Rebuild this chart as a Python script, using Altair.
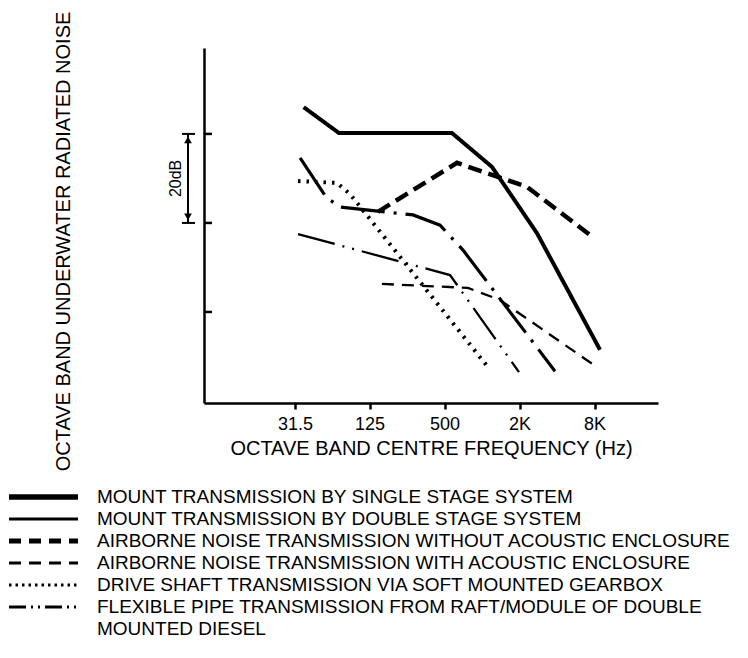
import altair as alt
import pandas as pd

# ---- values (octave band centre frequency in Hz, relative level in dB) ----
single_f = [37, 71, 573, 1200, 2760, 8850]
single_db = [66.0, 60.2, 60.2, 52.6, 37.7, 11.5]

double_f = [34.6, 56, 72, 279, 460, 703, 3850]
double_db = [54.6, 45.8, 43.6, 41.8, 39.5, 33.9, 6.7]

without_f = [146, 629, 2290, 7770]
without_db = [42.5, 53.5, 48.1, 36.8]

with_f = [157, 771, 1390, 8370]
with_db = [26.3, 25.4, 22.7, 7.6]

drive_f = [33.3, 68.4, 87, 1116]
drive_db = [49.4, 49.0, 46.5, 7.6]

flex_f = [33.3, 553, 1978]
flex_db = [37.5, 28.3, 6.5]

labels = [
    "MOUNT TRANSMISSION BY SINGLE STAGE SYSTEM",
    "MOUNT TRANSMISSION BY DOUBLE STAGE SYSTEM",
    "AIRBORNE NOISE TRANSMISSION WITHOUT ACOUSTIC ENCLOSURE",
    "AIRBORNE NOISE TRANSMISSION WITH ACOUSTIC ENCLOSURE",
    "DRIVE SHAFT TRANSMISSION VIA SOFT MOUNTED GEARBOX",
    "FLEXIBLE PIPE TRANSMISSION FROM RAFT/MODULE OF DOUBLE\nMOUNTED DIESEL",
]

xtick_values = [31.5, 125, 500, 2000, 8000]
xtick_labels = ["31.5", "125", "500", "2K", "8K"]
ytick_values = [20, 40, 60]
scale_bar = [40, 60]  # the "20dB" marker

# ---- styles ----
FONT = "Liberation Sans"
plot_dash = [[1, 0], [44, 9, 3, 9], [14, 7], [12, 8], [2.5, 6], [38, 8, 2, 8, 2, 8]]
plot_width = [4, 3.2, 4.5, 2.3, 4, 2.3]
legend_dash = [[1, 0], [1, 0], [12, 8], [12, 8], [2.5, 4], [17, 5, 2, 5, 2, 5]]
legend_width = [5.5, 3, 5, 3, 3, 3]

# ---- tables ----
series_data = [
    (single_f, single_db), (double_f, double_db), (without_f, without_db),
    (with_f, with_db), (drive_f, drive_db), (flex_f, flex_db),
]
rows = []
for name, (fs, dbs) in zip(labels, series_data):
    for f, d in zip(fs, dbs):
        rows.append({"series": name, "freq": f, "level": d})
df = pd.DataFrame(rows)

text_lines = []
first_lines = []
for lab in labels:
    parts = lab.split("\n")
    first_lines.append(parts[0])
    text_lines.extend(parts)
leg_df = pd.DataFrame({"series": labels, "line": first_lines})
txt_df = pd.DataFrame({"line": text_lines})

label_expr = ""
for v, l in zip(xtick_values, xtick_labels):
    label_expr += f"datum.value == {v} ? '{l}' : "
label_expr += "''"

xscale = alt.Scale(type="log", domain=[5.858, 25843], nice=False)
yscale = alt.Scale(domain=[-0.45, 79.3], nice=False, zero=False)

lines = alt.Chart(df).mark_line(color="black").encode(
    x=alt.X("freq:Q", scale=xscale, axis=alt.Axis(
        values=xtick_values, labelExpr=label_expr,
        title="OCTAVE BAND CENTRE FREQUENCY (Hz)",
        grid=False, tickSize=6, tickWidth=2.5, domainWidth=2.5,
        tickColor="black", domainColor="black",
        labelFontSize=18, labelColor="black", labelPadding=6,
        labelFlush=False, labelOverlap=False,
        titleFontSize=20, titleFontWeight="normal", titleColor="black",
        titleY=45, titleBaseline="middle",
    )),
    y=alt.Y("level:Q", scale=yscale, axis=alt.Axis(
        title="OCTAVE BAND UNDERWATER RADIATED NOISE",
        labels=False, ticks=False, grid=False,
        domainWidth=2.5, domainColor="black",
        titleFontSize=20, titleFontWeight="normal", titleColor="black",
        titleAngle=270, titleX=-141, titleY=193,
        titleBaseline="middle", titleAlign="center",
    )),
    strokeDash=alt.StrokeDash("series:N", scale=alt.Scale(domain=labels, range=plot_dash), legend=None),
    strokeWidth=alt.StrokeWidth("series:N", scale=alt.Scale(type="ordinal", domain=labels, range=plot_width), legend=None),
)

yticks = alt.Chart(pd.DataFrame({"v": ytick_values})).mark_rule(color="black", strokeWidth=2.5).encode(
    x=alt.value(0), x2=alt.value(8), y=alt.Y("v:Q", scale=yscale)
)

bar_df = pd.DataFrame({"lo": [scale_bar[0]], "hi": [scale_bar[1]]})
bar = alt.Chart(bar_df).mark_rule(color="black", strokeWidth=2).encode(
    x=alt.value(-16), y=alt.Y("lo:Q", scale=yscale), y2="hi:Q"
)
caps = alt.Chart(pd.DataFrame({"v": scale_bar})).mark_rule(color="black", strokeWidth=2).encode(
    x=alt.value(-22), x2=alt.value(-9), y=alt.Y("v:Q", scale=yscale)
)
arrow_up = alt.Chart(pd.DataFrame({"v": [scale_bar[1]]})).mark_point(
    shape="triangle-up", filled=True, size=60, color="black", opacity=1, yOffset=6
).encode(x=alt.value(-16), y=alt.Y("v:Q", scale=yscale))
arrow_down = alt.Chart(pd.DataFrame({"v": [scale_bar[0]]})).mark_point(
    shape="triangle-down", filled=True, size=60, color="black", opacity=1, yOffset=-6
).encode(x=alt.value(-16), y=alt.Y("v:Q", scale=yscale))
bar_text = alt.Chart(pd.DataFrame({"v": [sum(scale_bar) / 2]})).mark_text(
    text="20dB", angle=270, fontSize=16, color="black", baseline="middle", align="center"
).encode(x=alt.value(-28), y=alt.Y("v:Q", scale=yscale))

plot = alt.layer(lines, yticks, bar, caps, arrow_up, arrow_down, bar_text)

# ---- legend (own scales) ----
leg_x = alt.Scale(domain=[0, 1], range=[-195, -126])
leg_y = alt.Y("line:N", scale=alt.Scale(type="point", domain=text_lines, range=[449, 581], padding=0), axis=None)

leg_rules = alt.Chart(leg_df).mark_rule(color="black").encode(
    x=alt.XDatum(0, scale=leg_x, axis=None),
    x2=alt.X2Datum(1),
    y=leg_y,
    strokeDash=alt.StrokeDash("series:N", scale=alt.Scale(domain=labels, range=legend_dash), legend=None),
    strokeWidth=alt.StrokeWidth("series:N", scale=alt.Scale(type="ordinal", domain=labels, range=legend_width), legend=None),
)
leg_text = alt.Chart(txt_df).mark_text(
    align="left", baseline="middle", fontSize=19, color="black", dx=19
).encode(
    x=alt.XDatum(1, scale=leg_x, axis=None),
    y=leg_y,
    text="line:N",
)
legend = alt.layer(leg_rules, leg_text)

chart = alt.layer(plot, legend).resolve_scale(
    x="independent", y="independent", strokeDash="independent", strokeWidth="independent"
).properties(
    width=454, height=355,
    autosize=alt.AutoSizeParams(type="none"),
    padding={"left": 196, "top": 40, "right": 82, "bottom": 247},
    background="white",
).configure(font=FONT).configure_view(stroke=None)

chart.save("out.html", embed_options={"renderer": "svg", "actions": False})
